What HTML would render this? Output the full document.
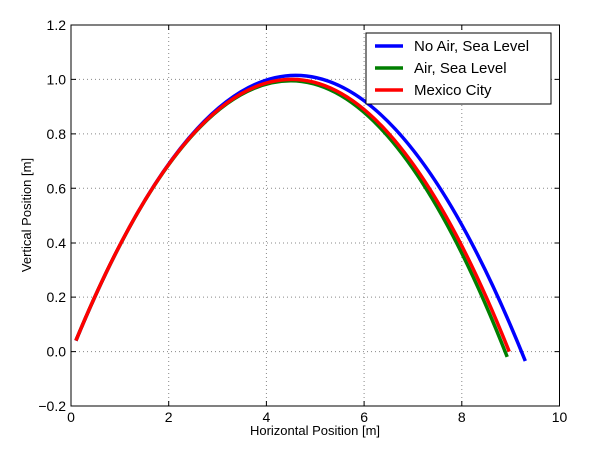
<!DOCTYPE html>
<html><head><style>body{margin:0;background:#fff}svg{font-family:"Liberation Sans","DejaVu Sans",sans-serif}</style></head>
<body>
<svg width="600" height="448" xmlns="http://www.w3.org/2000/svg">
<rect width="600" height="448" fill="#fff"/>
<g stroke="#888" stroke-width="1" stroke-dasharray="1,3">
<line x1="168.7" y1="25" x2="168.7" y2="406"/><line x1="266.4" y1="25" x2="266.4" y2="406"/><line x1="364.1" y1="25" x2="364.1" y2="406"/><line x1="461.8" y1="25" x2="461.8" y2="406"/>
<line x1="71" y1="351.6" x2="559.5" y2="351.6"/><line x1="71" y1="297.1" x2="559.5" y2="297.1"/><line x1="71" y1="243" x2="559.5" y2="243"/><line x1="71" y1="188.3" x2="559.5" y2="188.3"/><line x1="71" y1="133.9" x2="559.5" y2="133.9"/><line x1="71" y1="79.4" x2="559.5" y2="79.4"/>
</g>
<g fill="none" stroke-width="3.5">
<path d="M75.9,340.7 Q185.8,75.35 295.7,75.35 Q410.5,75.35 525.3,361" stroke="#0000ff"/>
<path d="M75.9,340.6 Q183.4,80.8 290.8,80.8 Q399,80.8 507.2,356.9" stroke="#007f00"/>
<path d="M75.9,340.6 Q183.8,79.4 291.8,79.4 Q400.5,79.4 509.2,351.6" stroke="#ff0000"/>
</g>
<rect x="71" y="25" width="488.5" height="381" fill="none" stroke="#000" stroke-width="1"/>
<g stroke="#000">
<path d="M168.7,406v-5M266.4,406v-5M364.1,406v-5M461.8,406v-5M168.7,25v5M266.4,25v5M364.1,25v5M461.8,25v5"/>
<path d="M71,351.6h5M71,297.1h5M71,243h5M71,188.3h5M71,133.9h5M71,79.4h5M559.5,351.6h-5M559.5,297.1h-5M559.5,243h-5M559.5,188.3h-5M559.5,133.9h-5M559.5,79.4h-5"/>
</g>
<g font-size="14" fill="#000" text-anchor="middle">
<text x="71" y="422">0</text><text x="168.7" y="422">2</text><text x="266.4" y="422">4</text><text x="364.1" y="422">6</text><text x="461.8" y="422">8</text><text x="559.5" y="422">10</text>
</g>
<g font-size="14" fill="#000" text-anchor="end">
<text x="66" y="411">−0.2</text><text x="66" y="356.5">0.0</text><text x="66" y="302">0.2</text><text x="66" y="248">0.4</text><text x="66" y="193.3">0.6</text><text x="66" y="138.9">0.8</text><text x="66" y="84.4">1.0</text><text x="66" y="30">1.2</text>
</g>
<text x="315" y="435" font-size="13" text-anchor="middle">Horizontal Position [m]</text>
<text transform="translate(31,215) rotate(-90)" font-size="13" text-anchor="middle">Vertical Position [m]</text>
<rect x="366" y="33" width="185" height="71" fill="#fff" stroke="#000"/>
<line x1="375" y1="46" x2="403" y2="46" stroke="#0000ff" stroke-width="3.5"/>
<line x1="375" y1="68" x2="403" y2="68" stroke="#007f00" stroke-width="3.5"/>
<line x1="375" y1="90" x2="403" y2="90" stroke="#ff0000" stroke-width="3.5"/>
<text x="414" y="51" font-size="15">No Air, Sea Level</text>
<text x="414" y="73" font-size="15">Air, Sea Level</text>
<text x="414" y="95" font-size="15">Mexico City</text>
</svg>
</body></html>
